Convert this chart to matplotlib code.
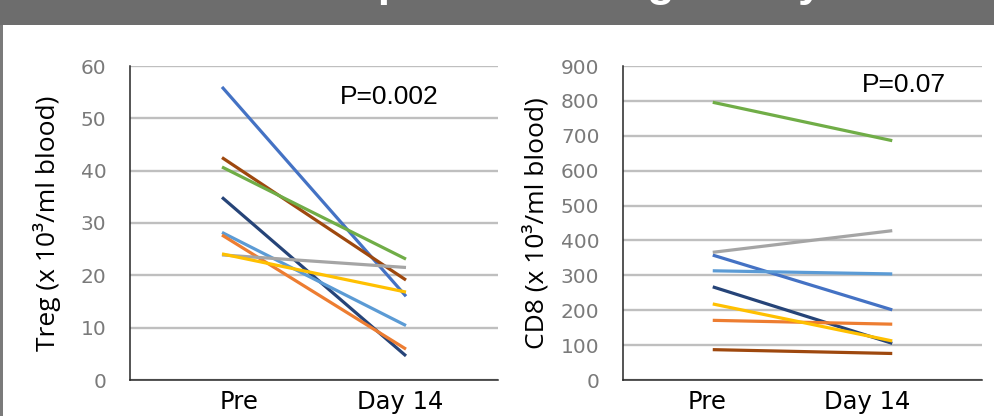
import matplotlib
matplotlib.use("Agg")
import matplotlib.pyplot as plt
from matplotlib.patches import Rectangle
from matplotlib.transforms import ScaledTranslation

categories = ["Pre", "Day 14"]
line_colors = ["#4472C4", "#9E480E", "#70AD47", "#264478",
               "#5B9BD5", "#ED7D31", "#A5A5A5", "#FFC000"]

treg_pre = [56.0, 42.5, 40.7, 34.9, 28.2, 27.7, 23.9, 24.1]
treg_day14 = [16.0, 19.1, 23.1, 4.6, 10.4, 5.9, 21.5, 16.8]

cd8_pre = [358, 87, 796, 267, 313, 171, 366, 218]
cd8_day14 = [201, 76, 686, 105, 304, 160, 428, 112]

treg_ticks = [0, 10, 20, 30, 40, 50, 60]
cd8_ticks = [0, 100, 200, 300, 400, 500, 600, 700, 800, 900]

title = "Preferential Depletion of Regulatory Cells"
treg_label = "Treg (x 10³/ml blood)"
cd8_label = "CD8 (x 10³/ml blood)"
treg_p = "P=0.002"
cd8_p = "P=0.07"

W, H = 995, 416
fig = plt.figure(figsize=(W / 100, H / 100), dpi=100)
fig.patch.set_facecolor("white")

# banner
fig.patches.append(Rectangle((0, 1 - 25 / H), 1, 25 / H, transform=fig.transFigure,
                             facecolor="#6d6d6d", edgecolor="none", zorder=0))
fig.patches.append(Rectangle((0, 0), 3 / W, 1 - 25 / H, transform=fig.transFigure,
                             facecolor="#7a7a7a", edgecolor="none", zorder=0))
fig.text(0.505, 1 + 4 / H, title, color="white", fontsize=32, fontweight="bold",
         family="Liberation Sans", ha="center", va="baseline")


def make_panel(rect, pre, day14, ticks, ylabel, ptext, ppos, xoffs, lpad):
    ax = fig.add_axes(rect)
    x = list(range(len(categories)))
    for a, b, c in zip(pre, day14, line_colors):
        ax.plot(x, [a, b], color=c, lw=2.3, solid_capstyle="butt", zorder=3)
    ax.set_xlim(-0.5, 1.5)
    ax.set_ylim(ticks[0], ticks[-1])
    ax.set_yticks(ticks)
    ax.set_xticks(x)
    ax.set_xticklabels(categories, fontsize=17.5, family="DejaVu Sans", color="black")
    ax.set_yticklabels([str(t) for t in ticks], fontsize=14.5, family="DejaVu Sans",
                       color="#7a7a7a")
    ax.tick_params(axis="y", length=0, pad=17)
    ax.tick_params(axis="x", length=0, pad=7)
    for lab, dx in zip(ax.get_xticklabels(), xoffs):
        lab.set_transform(lab.get_transform() +
                          ScaledTranslation(dx / 100, 0, fig.dpi_scale_trans))
    ax.yaxis.grid(True, color="#bfbfbf", lw=1.7)
    ax.set_axisbelow(True)
    for s in ["top", "right"]:
        ax.spines[s].set_visible(False)
    for s in ["left", "bottom"]:
        ax.spines[s].set_color("#262626")
        ax.spines[s].set_linewidth(1.1)
        ax.spines[s].set_zorder(4)
    ax.set_ylabel(ylabel, fontsize=19, family="Open Sans", color="black", labelpad=lpad)
    ax.text(ppos[0], ppos[1], ptext, transform=ax.transAxes, fontsize=19,
            family="Liberation Sans", color="black", va="baseline", ha="left")
    return ax


make_panel([130 / W, 36 / H, 368 / W, 314 / H], treg_pre, treg_day14, treg_ticks,
           treg_label, treg_p, (0.571, 0.879), (17, -6), 14)
make_panel([623 / W, 36 / H, 359 / W, 314 / H], cd8_pre, cd8_day14, cd8_ticks,
           cd8_label, cd8_p, (0.666, 0.917), (-6, -25), 8)

fig.savefig("out.png", dpi=100)
